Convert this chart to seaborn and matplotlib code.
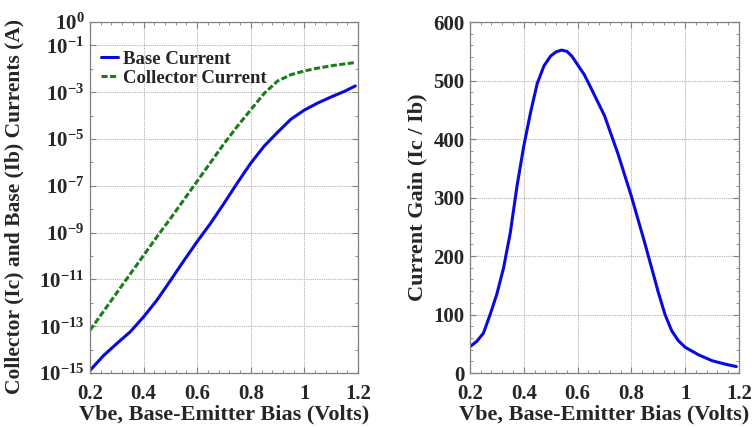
import numpy as np
import pandas as pd
import matplotlib
matplotlib.use('Agg')
import matplotlib.pyplot as plt
import matplotlib.ticker as mticker
import seaborn as sns

# valeurs (log10 des courants en A)
vbe = [0.2, 0.25, 0.3, 0.35, 0.4, 0.45, 0.5, 0.55, 0.6, 0.65, 0.7,
       0.75, 0.8, 0.85, 0.9, 0.95, 1.0, 1.05, 1.1, 1.15, 1.19]
log_ic = [-13.17, -12.37, -11.57, -10.77, -9.97, -9.17, -8.4, -7.6, -6.8, -6.0, -5.2,
          -4.45, -3.75, -3.05, -2.52, -2.25, -2.09, -1.97, -1.87, -1.79, -1.73]
log_ib = [-14.89, -14.26, -13.74, -13.24, -12.6, -11.88, -11.05, -10.2, -9.38, -8.6, -7.75,
          -6.87, -6.03, -5.3, -4.71, -4.15, -3.76, -3.46, -3.2, -2.96, -2.73]

vbe_gain = [0.2, 0.225, 0.25, 0.275, 0.3, 0.325, 0.35, 0.375, 0.4, 0.425, 0.45, 0.475,
            0.5, 0.52, 0.54, 0.56, 0.58, 0.6, 0.625, 0.65, 0.7, 0.75, 0.8, 0.825,
            0.85, 0.875, 0.9, 0.925, 0.95, 0.975, 1.0, 1.05, 1.1, 1.15, 1.19]
gain = [45, 54, 68, 100, 135, 180, 240, 320, 388, 445, 495, 525,
        542, 549, 552, 550, 541, 527, 510, 487, 440, 375, 302, 262,
        222, 180, 138, 100, 72, 55, 44, 31, 21, 15, 11]

df = pd.DataFrame({'vbe': vbe, 'ib': np.power(10.0, log_ib), 'ic': np.power(10.0, log_ic)})
df_gain = pd.DataFrame({'vbe': vbe_gain, 'gain': gain})

sns.set_style('ticks')
plt.rcParams['font.family'] = ['Liberation Serif', 'DejaVu Serif']
plt.rcParams['font.weight'] = 'bold'
plt.rcParams['mathtext.fontset'] = 'custom'
plt.rcParams['mathtext.rm'] = 'Liberation Serif:bold'
plt.rcParams['mathtext.bf'] = 'Liberation Serif:bold'
plt.rcParams['mathtext.default'] = 'bf'

fig = plt.figure(figsize=(7.54, 4.28), dpi=100)
ax1 = fig.add_axes([0.1194, 0.1285, 0.3554, 0.820])
ax2 = fig.add_axes([0.6233, 0.1285, 0.3568, 0.820])

blue = '#0a0adc'
green = '#1a7d1a'

sns.lineplot(data=df, x='vbe', y='ib', ax=ax1, color=blue, linewidth=2.2, label='Base Current')
sns.lineplot(data=df, x='vbe', y='ic', ax=ax1, color=green, linewidth=2.2, linestyle=(0, (2.0, 0.8)),
             label='Collector Current')
ax1.set_yscale('log')
ax1.set_ylim(1e-15, 1)
exps = [0, -1, -3, -5, -7, -9, -11, -13, -15]
ax1.yaxis.set_major_locator(mticker.FixedLocator([10.0 ** e for e in exps]))
ax1.yaxis.set_major_formatter(mticker.FixedFormatter([r'$10^{%d}$' % e for e in exps]))
ax1.yaxis.set_minor_locator(mticker.FixedLocator([10.0 ** e for e in range(-14, 0, 2)]))
ax1.yaxis.set_minor_formatter(mticker.NullFormatter())
ax1.set_ylabel('Collector (Ic) and Base (Ib) Currents (A)', fontsize=15.5, fontweight='bold', labelpad=1)
ax1.yaxis.set_label_coords(-0.245, 0.475)
leg = ax1.legend(loc='upper left', frameon=False, fontsize=13.5, handlelength=0.9,
                 handletextpad=0.25, borderaxespad=0.2, labelspacing=0.1, bbox_to_anchor=(0.0, 0.95))

sns.lineplot(data=df_gain, x='vbe', y='gain', ax=ax2, color=blue, linewidth=2.2)
ax2.set_ylim(0, 600)
ax2.yaxis.set_major_locator(mticker.MultipleLocator(100))
ax2.yaxis.set_minor_locator(mticker.MultipleLocator(20))
ax2.set_ylabel('Current Gain (Ic / Ib)', fontsize=16, fontweight='bold', labelpad=4)

for ax in (ax1, ax2):
    ax.set_xlim(0.2, 1.2)
    ax.xaxis.set_major_locator(mticker.MultipleLocator(0.2))
    ax.xaxis.set_minor_locator(mticker.MultipleLocator(0.04))
    ax.xaxis.set_major_formatter(mticker.FuncFormatter(lambda v, p: '%g' % round(v, 2)))
    ax.set_xlabel('Vbe, Base-Emitter Bias (Volts)', fontsize=16, fontweight='bold', labelpad=0)
    ax.grid(True, which='major', color='#b0b0b0', linestyle=(0, (1, 1)), linewidth=0.8)
    ax.tick_params(which='both', direction='in', top=True, right=True, color='#808080')
    ax.tick_params(which='major', length=4, labelsize=15)
    ax.tick_params(axis='x', which='major', pad=8)
    ax.tick_params(axis='y', which='major', pad=4)
    ax.tick_params(which='minor', length=2.5)
    for s in ax.spines.values():
        s.set_color('#808080')
        s.set_linewidth(0.9)
    for lab in ax.get_xticklabels() + ax.get_yticklabels():
        lab.set_fontweight('bold')

fig.savefig('out.png', dpi=100)
